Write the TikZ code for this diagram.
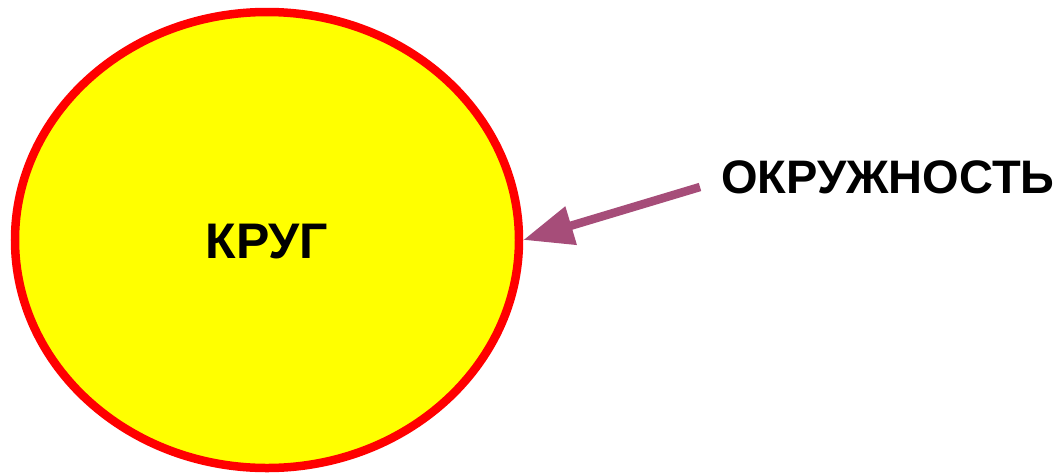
\documentclass[tikz,border=0pt]{standalone}
\usepackage{fontspec}
\setmainfont{Liberation Sans}
\usetikzlibrary{shapes.geometric,arrows.meta}
\definecolor{pointer}{RGB}{166,77,121}
\definecolor{krugfill}{RGB}{255,255,0}
\tikzset{
  krugshape/.style={ellipse, draw=red, fill=krugfill, line width=8.5pt,
    minimum width=504pt, minimum height=456pt, inner sep=0pt},
  bigword/.style={font=\fontsize{47}{50}\selectfont\bfseries, inner sep=0pt}
}
\begin{document}
\begin{tikzpicture}[x=1pt,y=-1pt]
  \useasboundingbox (0,0) rectangle (1063,475);
  \node[krugshape] (krug) at (267,240) {};
  \node[bigword, font=\fontsize{50}{54}\selectfont\bfseries] (krugtext) at (267,242) {КРУГ};
  \node[bigword, anchor=west] (okr) at (721,177) {ОКРУЖНОСТЬ};
  \coordinate (start) at (700,187);
  \draw[pointer, line width=8.5pt, -{Triangle[length=50pt,width=38pt]}] (start) -- (krug.east);
\end{tikzpicture}
\end{document}
